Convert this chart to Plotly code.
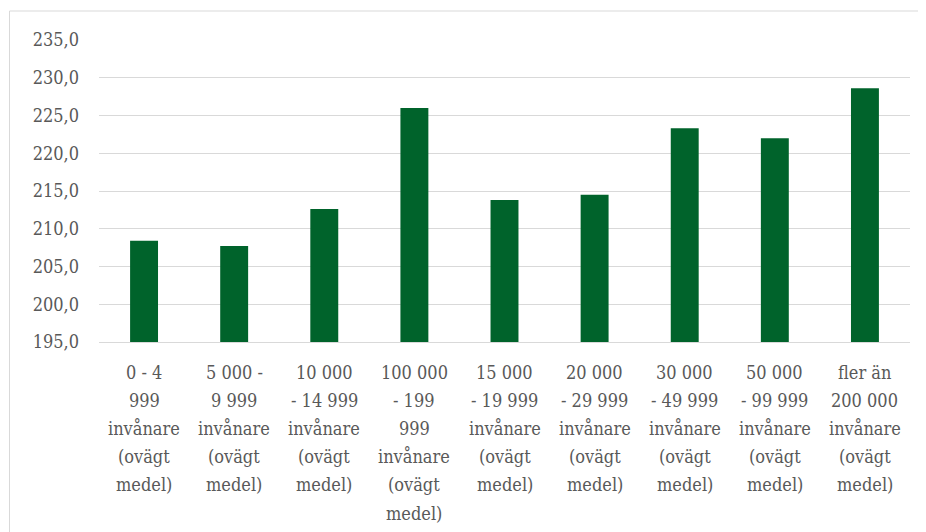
import plotly.graph_objects as go

categories = [
    "0 - 4 999 invånare (ovägt medel)",
    "5 000 - 9 999 invånare (ovägt medel)",
    "10 000 - 14 999 invånare (ovägt medel)",
    "100 000 - 199 999 invånare (ovägt medel)",
    "15 000 - 19 999 invånare (ovägt medel)",
    "20 000 - 29 999 invånare (ovägt medel)",
    "30 000 - 49 999 invånare (ovägt medel)",
    "50 000 - 99 999 invånare (ovägt medel)",
    "fler än 200 000 invånare (ovägt medel)",
]
tick_labels = [
    ["0 - 4", "999", "invånare", "(ovägt", "medel)"],
    ["5 000 -", "9 999", "invånare", "(ovägt", "medel)"],
    ["10 000", "- 14 999", "invånare", "(ovägt", "medel)"],
    ["100 000", "- 199", "999", "invånare", "(ovägt", "medel)"],
    ["15 000", "- 19 999", "invånare", "(ovägt", "medel)"],
    ["20 000", "- 29 999", "invånare", "(ovägt", "medel)"],
    ["30 000", "- 49 999", "invånare", "(ovägt", "medel)"],
    ["50 000", "- 99 999", "invånare", "(ovägt", "medel)"],
    ["fler än", "200 000", "invånare", "(ovägt", "medel)"],
]
values = [208.4, 207.7, 212.6, 226.0, 213.8, 214.5, 223.3, 222.0, 228.6]
y_ticks = [195, 200, 205, 210, 215, 220, 225, 230, 235]

# page body has an 8px margin, so the figure is placed 8px in from the top-left
OFF = 8
W, H = 918, 524
L, R, T = 99 - OFF, 16, 40 - OFF
B = H - (342 - OFF)
pw, ph = W - L - R, H - T - B

fig = go.Figure(go.Bar(
    x=categories, y=values,
    marker=dict(color="#00632B", line=dict(width=0)),
    width=0.31,
))

font = dict(family="DejaVu Serif Condensed, DejaVu Serif", size=18, color="#595959")

# category labels: one text line per row with Excel-like line spacing
LINE_GAP, FIRST = 28.2, 30
annotations = []
for cat, lines in zip(categories, tick_labels):
    for i, line in enumerate(lines):
        annotations.append(dict(
            x=cat, xref="x", y=0, yref="paper", text=line, showarrow=False,
            xanchor="center", yanchor="middle", yshift=-(FIRST + LINE_GAP * i),
            font=font,
        ))

fig.update_layout(
    width=W, height=H,
    margin=dict(l=L, r=R, t=T, b=B),
    paper_bgcolor="white", plot_bgcolor="white",
    separators=", ",
    font=font,
    showlegend=False,
    annotations=annotations,
    xaxis=dict(
        showticklabels=False,
        showgrid=False, showline=True, linecolor="#d9d9d9", linewidth=1,
        ticks="",
    ),
    yaxis=dict(
        range=[195, 235], tickmode="array", tickvals=y_ticks, tickformat=".1f",
        showgrid=True, gridcolor="#d9d9d9", gridwidth=1, zeroline=False,
        showline=False, ticks="", tickfont=font, ticklabelstandoff=19,
    ),
    shapes=[dict(
        type="rect", xref="paper", yref="paper",
        x0=(1.5 - L) / pw, x1=(940 - L) / pw,
        y0=-(560 - (H - B)) / ph, y1=1 + (T - (11 - OFF)) / ph,
        line=dict(color="#d9d9d9", width=1), fillcolor="rgba(0,0,0,0)",
        layer="below",
    )],
)

fig.write_html("out.html")
